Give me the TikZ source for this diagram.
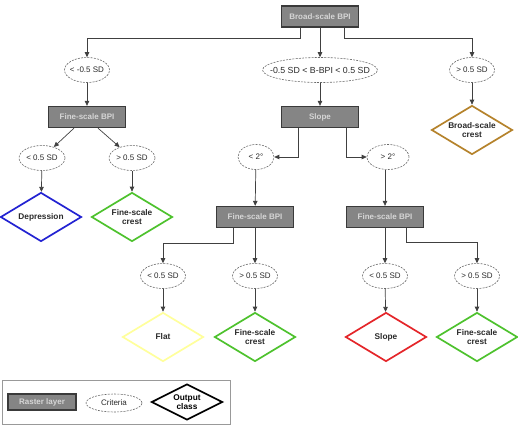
\documentclass[tikz,border=0pt]{standalone}
\usepackage{fontspec}
\setmainfont{Liberation Sans}
\usetikzlibrary{shapes.geometric,arrows.meta,calc}
\definecolor{boxfill}{HTML}{858585}
\definecolor{boxline}{HTML}{3A3A3A}
\definecolor{boxtext}{HTML}{D6D6D6}
\definecolor{linec}{HTML}{404040}
\definecolor{txt}{HTML}{2A2A2A}
\definecolor{dashc}{HTML}{6A6A6A}
\definecolor{cblue}{HTML}{2323D2}
\definecolor{cgreen}{HTML}{4EC22E}
\definecolor{cyellow}{HTML}{FFFF9C}
\definecolor{cred}{HTML}{E4262A}
\definecolor{cbrown}{HTML}{B5832C}
\tikzset{
  layer/.style={rectangle, draw=boxline, line width=1.3pt, fill=boxfill, minimum width=77pt, minimum height=21pt, inner sep=0pt, text=boxtext, font=\fontsize{8}{9}\selectfont\bfseries},
  crit/.style={ellipse, draw=dashc, dashed, dash pattern=on 2pt off 1.2pt, line width=0.6pt, inner xsep=-3pt, inner ysep=0pt, minimum height=25pt, text=txt, font=\fontsize{8}{9}\selectfont},
  outc/.style={diamond, aspect=1.7, line width=1.7pt, inner sep=0pt, minimum width=81pt, minimum height=49pt, align=center, text=txt, font=\fontsize{8.3}{9.7}\selectfont\bfseries},
  conn/.style={draw=linec, line width=0.7pt, -{Triangle[length=5pt,width=4.5pt]}}
}
\begin{document}
\begin{tikzpicture}[x=1pt,y=-1pt]
\useasboundingbox (0,0) rectangle (518,428);
% layers
\node[layer] (b1) at (320,16.5) {Broad-scale BPI};
\node[layer] (f1) at (87,117) {Fine-scale BPI};
\node[layer] (s1) at (320,117) {Slope};
\node[layer] (f2) at (255,217) {Fine-scale BPI};
\node[layer] (f3) at (385,217) {Fine-scale BPI};
% criteria
\node[crit, minimum width=45pt] (c1) at (87,70) {< -0.5 SD};
\node[crit, minimum width=115pt, inner xsep=-16pt, font=\fontsize{8.8}{9}\selectfont] (c2) at (320,70) {-0.5 SD < B-BPI < 0.5 SD};
\node[crit, minimum width=45pt] (c3) at (472,70) {> 0.5 SD};
\node[crit, minimum width=46pt] (l1) at (42,158) {< 0.5 SD};
\node[crit, minimum width=46pt] (r1) at (132,158) {> 0.5 SD};
\node[crit, minimum width=36pt] (lt) at (256,157) {< 2°};
\node[crit, minimum width=42pt] (gt) at (388,157) {> 2°};
\node[crit, minimum width=45pt] (l2) at (163,276) {< 0.5 SD};
\node[crit, minimum width=45pt] (r2) at (255,276) {> 0.5 SD};
\node[crit, minimum width=45pt] (l3) at (385,276) {< 0.5 SD};
\node[crit, minimum width=45pt] (r3) at (477,276) {> 0.5 SD};
% outputs
\node[outc, draw=cbrown] (bc) at (472,130) {Broad-scale\\crest};
\node[outc, draw=cblue] (dep) at (41,217) {Depression};
\node[outc, draw=cgreen] (fc1) at (132,217) {Fine-scale\\crest};
\node[outc, draw=cyellow] (flat) at (163,337) {Flat};
\node[outc, draw=cgreen] (fc2) at (255,337) {Fine-scale\\crest};
\node[outc, draw=cred] (sl) at (386,337) {Slope};
\node[outc, draw=cgreen] (fc3) at (477,337) {Fine-scale\\crest};
% connectors
\draw[conn] ([xshift=-20pt]b1.south) -- ++(0,11) -| (c1);
\draw[conn] (b1) -- (c2);
\draw[conn] ([xshift=24pt]b1.south) -- ++(0,11) -| (c3);
\draw[conn] (c1) -- (f1);
\draw[conn] (c2) -- (s1);
\draw[conn] (c3) -- (bc);
\draw[conn] ([xshift=-13pt]f1.south) -- (l1);
\draw[conn] ([xshift=11pt]f1.south) -- (r1);
\draw[conn] (l1) -- (dep);
\draw[conn] (r1) -- (fc1);
\draw[conn] ([xshift=-22pt]s1.south) |- (lt);
\draw[conn] ([xshift=26pt]s1.south) |- (gt);
\draw[conn] (lt) -- (f2);
\draw[conn] (gt.south -| f3.north) -- (f3.north);
\draw[conn] ([xshift=-22pt]f2.south) -- ++(0,15) -| (l2);
\draw[conn] (f2) -- (r2);
\draw[conn] (f3) -- (l3);
\draw[conn] ([xshift=21pt]f3.south) -- ++(0,14) -| (r3);
\draw[conn] (l2) -- (flat);
\draw[conn] (r2) -- (fc2);
\draw[conn] (l3) -- (sl);
\draw[conn] (r3) -- (fc3);
% legend
\node[draw=gray!80, line width=0.7pt, minimum width=228pt, minimum height=44pt, inner sep=0pt] (leg) at (116,402) {};
\node[layer, minimum width=68pt, minimum height=16pt] (lgl) at (42,402) {Raster layer};
\node[crit, minimum width=56pt, minimum height=18pt] (lgc) at (114,403) {Criteria};
\node[outc, draw=black, minimum width=71pt, minimum height=36pt, aspect=2, text=black] (lgo) at (187,402) {Output\\class};
\end{tikzpicture}
\end{document}
